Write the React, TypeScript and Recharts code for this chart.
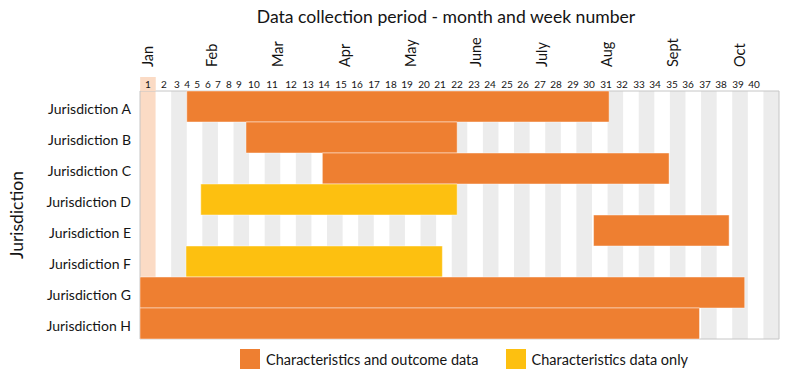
import React from 'react';
import { BarChart, Bar, XAxis, YAxis, Cell, ReferenceArea } from 'recharts';

// one row per jurisdiction; periods are in week-column units (0 = start of week 1)
const jurisdictions = [
  'Jurisdiction A', 'Jurisdiction B', 'Jurisdiction C', 'Jurisdiction D',
  'Jurisdiction E', 'Jurisdiction F', 'Jurisdiction G', 'Jurisdiction H',
];
const periodStart = [3.0, 6.8, 11.7, 3.9, 29.1, 2.95, 0, 0];
const periodEnd = [30.1, 20.35, 33.95, 20.35, 37.8, 19.4, 38.8, 35.9];
const dataKind = ['full', 'full', 'full', 'chars', 'full', 'chars', 'full', 'full'];

const weekTickPos = [
  0.51, 1.54, 2.37, 3.02, 3.66, 4.36, 5.0, 5.71, 6.35, 7.31,
  8.47, 9.69, 10.78, 11.81, 12.9, 13.92, 15.01, 16.1, 17.13, 18.22,
  19.25, 20.34, 21.43, 22.46, 23.55, 24.58, 25.67, 26.69, 27.78, 28.81,
  29.9, 30.93, 32.02, 33.04, 34.14, 35.16, 36.25, 37.28, 38.37, 39.4,
];
const weekLabels = weekTickPos.map((_, i) => String(i + 1));

const monthLabels = ['Jan', 'Feb', 'Mar', 'Apr', 'May', 'June', 'July', 'Aug', 'Sept', 'Oct'];
const monthTickPos = [0.5, 4.6, 8.85, 13.15, 17.35, 21.55, 25.75, 29.95, 34.2, 38.5];

const NUM_COLUMNS = 41;

const ORANGE = '#EE7F31';
const YELLOW = '#FDC010';
const STRIPE = '#ECECEC';
const PEACH = '#FBDBC5';
const TEXT = '#141414';

const legendItems = [
  { label: 'Characteristics and outcome data', color: ORANGE },
  { label: 'Characteristics data only', color: YELLOW },
];

const W = 792;
const H = 381;
const margin = { top: 0, right: 13, bottom: 42, left: 0 };
const Y_AXIS_W = 140;
const colWidth = (W - margin.right - Y_AXIS_W) / NUM_COLUMNS;

const data = jurisdictions.map((name, i) => ({
  name,
  range: [periodStart[i], periodEnd[i]],
  kind: dataKind[i],
}));

const WeekTick = (props: any) => {
  const { x, y, payload } = props;
  const idx = weekTickPos.indexOf(payload.value);
  return (
    <g>
      {idx === 0 && (
        <rect x={x - colWidth / 2} y={y - 6} width={colWidth} height={14} fill={PEACH} />
      )}
      <text x={x} y={y + 5} textAnchor="middle" fontSize={10} fill={TEXT}>
        {weekLabels[idx]}
      </text>
    </g>
  );
};

const MonthTick = (props: any) => {
  const { x, y, payload } = props;
  const idx = monthTickPos.indexOf(payload.value);
  const ty = y + 4;
  return (
    <text
      x={x}
      y={ty}
      dy="0.36em"
      transform={`rotate(-90 ${x} ${ty})`}
      textAnchor="start"
      fontSize={14.5}
      fill={TEXT}
    >
      {monthLabels[idx]}
    </text>
  );
};

const NameTick = (props: any) => {
  const { x, y, payload } = props;
  return (
    <text x={x} y={y} dy={7} textAnchor="end" fontSize={14} fill={TEXT}>
      {payload.value}
    </text>
  );
};

const YTitle = (props: any) => {
  const vb = props.viewBox || {};
  const cx = 23;
  const cy = vb.y + vb.height / 2;
  return (
    <text x={cx} y={cy} transform={`rotate(-90 ${cx} ${cy})`} textAnchor="middle" fontSize={17.5} fill={TEXT}>
      Jurisdiction
    </text>
  );
};

export default function App() {
  const stripeCols: number[] = [];
  for (let c = 2; c < NUM_COLUMNS; c += 2) stripeCols.push(c);

  return (
    <div style={{ position: 'absolute', left: 0, top: 0, width: W, height: H, fontFamily: 'Lato, sans-serif', background: '#fff' }}>
      <div style={{ position: 'absolute', left: 0, top: 6, width: 892, textAlign: 'center', fontSize: 17.6, color: TEXT }}>
        Data collection period - month and week number
      </div>
      <BarChart
        width={W}
        height={H}
        data={data}
        layout="vertical"
        margin={margin}
        barCategoryGap={0}
        barGap={0}
      >
        <XAxis
          xAxisId="aWeek"
          type="number"
          domain={[0, NUM_COLUMNS]}
          allowDataOverflow
          orientation="top"
          ticks={weekTickPos}
          interval={0}
          axisLine={false}
          tickLine={false}
          height={20}
          tick={(p: any) => <WeekTick {...p} />}
        />
        <XAxis
          xAxisId="bMonth"
          type="number"
          domain={[0, NUM_COLUMNS]}
          allowDataOverflow
          orientation="top"
          ticks={monthTickPos}
          interval={0}
          axisLine={false}
          tickLine={false}
          height={71}
          tick={(p: any) => <MonthTick {...p} />}
        />
        <YAxis
          type="category"
          dataKey="name"
          width={Y_AXIS_W}
          axisLine={false}
          tickLine={false}
          tickMargin={3}
          tick={(p: any) => <NameTick {...p} />}
          label={(p: any) => <YTitle {...p} />}
        />
        <ReferenceArea xAxisId="aWeek" x1={0} x2={1} fill={PEACH} fillOpacity={1} strokeWidth={0} />
        {stripeCols.map((c) => (
          <ReferenceArea key={c} xAxisId="aWeek" x1={c} x2={c + 1} fill={STRIPE} fillOpacity={1} strokeWidth={0} />
        ))}
        <Bar xAxisId="aWeek" dataKey="range" isAnimationActive={false} stroke="rgba(255,255,255,0.45)" strokeWidth={1}>
          {data.map((d, i) => (
            <Cell key={i} fill={d.kind === 'full' ? ORANGE : YELLOW} />
          ))}
        </Bar>
        <ReferenceArea xAxisId="aWeek" x1={0} x2={NUM_COLUMNS} fill="none" stroke="#C6C6C6" strokeWidth={1} />
      </BarChart>
      <div style={{ position: 'absolute', left: 240, top: 349, display: 'flex', alignItems: 'center', fontSize: 14.5, color: TEXT }}>
        {legendItems.map((it) => (
          <div key={it.label} style={{ display: 'flex', alignItems: 'center', marginRight: 27 }}>
            <span style={{ width: 20, height: 20, background: it.color, marginRight: 6, display: 'inline-block' }} />
            <span>{it.label}</span>
          </div>
        ))}
      </div>
    </div>
  );
}
